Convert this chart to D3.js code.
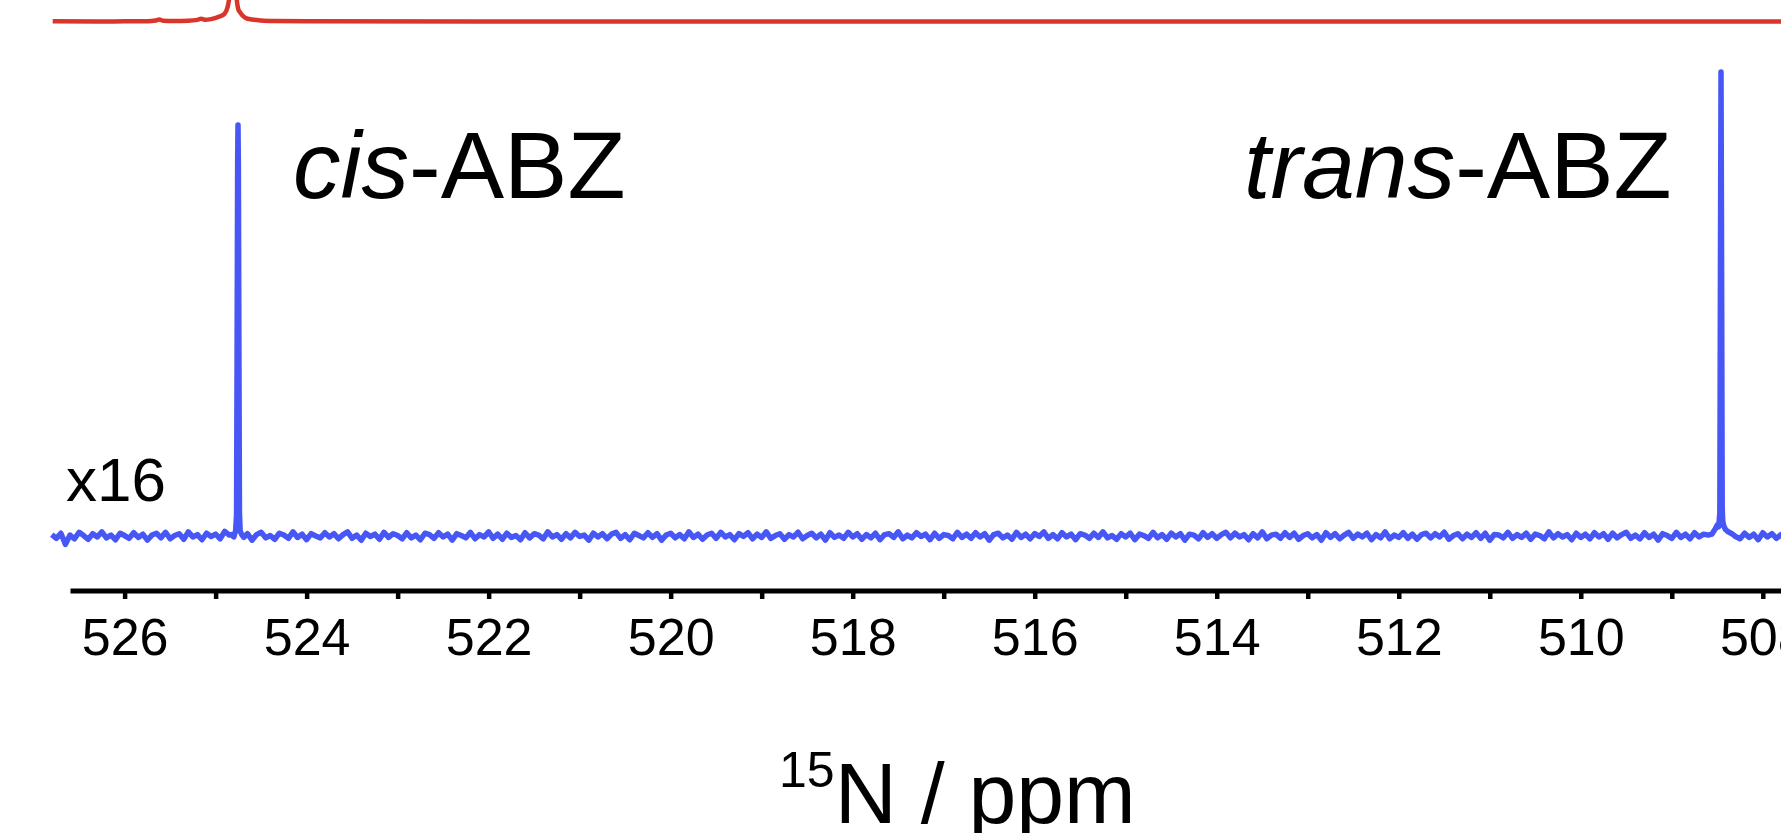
<!DOCTYPE html>
<html>
<head>
<meta charset="utf-8">
<script src="https://cdn.jsdelivr.net/npm/d3@7"></script>
<style>
  html, body { margin: 0; padding: 0; background: #fff; }
  svg { display: block; }
  text { font-family: "Liberation Sans", Arial, Helvetica, sans-serif; fill: #000; }
</style>
</head>
<body>
<script>
// ---------- data ----------
const tickValues = [526, 525, 524, 523, 522, 521, 520, 519, 518, 517, 516, 515, 514, 513, 512, 511, 510, 509, 508];
const xLabel = "N / ppm";
const xLabelSup = "15";
const scaleLabel = "x16";

// blue (x16) trace: baseline noise sampled every 0.05 ppm starting at 526.80 ppm
const noiseStart = 526.80;
const noiseStep = 0.05;
const blueNoise = [
  0.3,-0.5,0.6,-1.8,0.2,-0.6,0.8,0.1,-0.7,0.5,-0.2,0.9,-0.4,0.2,-0.8,0.6,0.1,-0.5,0.7,-0.3,
  0.4,-0.9,0.2,0.6,-0.4,0.8,-0.6,0.1,0.5,-0.7,0.9,-0.2,0.3,-0.8,0.6,-0.1,0.4,-0.6,1.0,0.2,
  -0.5,0.7,-0.3,0.5,-0.9,0.3,0.8,-0.4,0.1,-0.7,0.6,0.2,-0.5,0.9,-0.3,0.4,-0.8,0.5,0.0,-0.4,
  0.7,-0.2,0.5,-0.6,0.3,0.9,-0.5,0.2,-0.9,0.6,-0.1,0.4,-0.7,0.8,-0.3,0.5,0.1,-0.6,0.7,-0.4,
  0.2,-0.8,0.6,0.3,-0.5,0.7,-0.2,0.4,-0.9,0.5,0.1,-0.4,0.8,-0.6,0.3,-0.2,0.9,-0.5,0.4,-0.7,
  0.6,-0.3,0.1,-0.8,0.7,-0.4,0.5,0.2,-0.6,0.9,-0.2,0.3,-0.7,0.5,-0.4,0.8,-0.1,0.2,-0.9,0.6,
  -0.2,0.5,-0.6,0.4,0.8,-0.5,0.3,-0.8,0.6,0.1,-0.4,0.7,-0.3,0.5,-0.9,0.2,0.6,-0.4,0.3,-0.6,
  0.9,-0.3,0.4,-0.7,0.2,0.6,-0.5,0.8,-0.2,0.3,-0.8,0.5,-0.1,0.7,-0.6,0.4,-0.3,0.9,-0.5,0.1,
  0.5,-0.7,0.3,-0.2,0.8,-0.6,0.1,0.6,-0.4,0.4,-0.9,0.7,-0.3,0.2,-0.5,0.8,-0.2,0.5,-0.7,0.3,
  -0.4,0.6,-0.8,0.3,0.5,-0.3,0.9,-0.6,0.2,-0.4,0.7,-0.1,0.4,-0.8,0.6,-0.5,0.3,0.1,-0.6,0.8,
  -0.3,0.4,-0.5,0.7,-0.2,0.5,-0.9,0.3,0.6,-0.4,0.2,-0.7,0.8,-0.3,0.4,-0.6,0.5,-0.1,0.9,-0.5,
  0.3,-0.6,0.7,-0.2,0.4,-0.8,0.5,0.2,-0.5,0.6,-0.3,0.9,-0.4,0.1,-0.7,0.5,-0.2,0.6,-0.8,0.4,
  0.1,-0.5,0.8,-0.4,0.3,-0.7,0.6,-0.2,0.5,-0.9,0.4,0.2,-0.6,0.7,-0.3,0.5,-0.5,0.3,0.8,-0.4,
  0.6,-0.2,0.3,-0.8,0.5,-0.4,0.9,-0.6,0.2,0.4,-0.5,0.7,-0.3,0.6,-0.7,0.1,0.5,-0.4,0.3,-0.9,
  0.7,-0.3,0.5,-0.6,0.2,0.8,-0.5,0.4,-0.2,0.6,-0.8,0.3,-0.4,0.9,-0.6,0.2,-0.3,0.7,-0.5,0.4,
  -0.7,0.3,0.6,-0.4,0.5,-0.2,0.8,-0.7,0.1,0.5,-0.6,0.4,-0.3,0.7,-0.5,0.6,-0.9,0.3,0.2,-0.4,
  0.8,-0.5,0.3,-0.3,0.6,-0.7,0.4,0.1,-0.6,0.9,-0.4,0.5,-0.2,0.3,-0.8,0.6,-0.3,0.4,-0.6,0.7,
  -0.2,0.5,-0.7,0.6,-0.4,0.3,0.8,-0.5,0.2,-0.6,0.7,-0.3,0.4,-0.9,0.5,0.1,-0.5,0.8,-0.3,0.4,
  -0.6,0.7,-0.2,0.4,-0.5,0.9,-0.4,0.3,-0.7,0.5,0.2,-0.6,0.6,-0.3,0.4,-0.8,0.7,-0.2,0.5,-0.5,
  0.3,-0.4,0.6,-0.7,0.2,0.5,-0.3,0.8,-0.6,0.4,-0.2,0.7,-0.5,0.3,-0.4,0.6,-0.1,0.5,-0.6,0.2
];
// cis-ABZ peak (blue)
const cisPpm = [524.83, 524.80, 524.78, 524.770, 524.764, 524.758, 524.754, 524.750, 524.744, 524.738, 524.73, 524.71, 524.69];
const cisInt = [0.3, -0.2, 1.2, 4.5, 40, 80, 88.6, 80, 40, 5, 1.0, 0.2, -0.3];
// trans-ABZ peak (blue)
const transPpm = [508.60, 508.56, 508.52, 508.50, 508.485, 508.472, 508.465, 508.459, 508.453, 508.446, 508.44, 508.43, 508.41, 508.38, 508.34, 508.30];
const transInt = [0.2, 0.4, 1.6, 2.4, 2.0, 5, 60, 100, 60, 6, 3.2, 2.2, 1.4, 0.9, 0.5, -0.1];

// red trace (top, unscaled spectrum)
const redPpm = [526.79, 526.30, 526.00, 525.75, 525.66, 525.62, 525.58, 525.45, 525.30, 525.20, 525.16, 525.12, 525.05, 525.00, 524.95, 524.90, 524.87, 524.85, 524.83, 524.81, 524.79, 524.77, 524.75, 524.73, 524.70, 524.67, 524.60, 524.50, 524.35, 524.00, 522.00, 518.00, 512.00, 507.70];
const redInt = [0.1, 0.0, 0.1, 0.15, 0.5, 1.0, 0.4, 0.3, 0.4, 0.8, 1.4, 0.9, 1.2, 1.8, 2.6, 4.0, 7, 12, 25, 40, 25, 12, 6, 4.5, 2.8, 1.8, 1.0, 0.5, 0.25, 0.1, 0.0, 0.0, 0.0, 0.0];

// ---------- build ----------
const W = 1781, H = 833;
const svg = d3.select("body").append("svg").attr("width", W).attr("height", H);
svg.append("rect").attr("width", W).attr("height", H).attr("fill", "#fff");

const x = d3.scaleLinear().domain([526.6, 507.8]).range([70, 1781]);
const yBlue = d3.scaleLinear().domain([0, 100]).range([536, 72]);
const yRed = d3.scaleLinear().domain([0, 10]).range([21.5, 1.5]);

let bluePts = blueNoise.map((v, i) => ({ppm: +(noiseStart - i * noiseStep).toFixed(3), v}))
  .filter(d => !(d.ppm < 524.84 && d.ppm > 524.68) && !(d.ppm < 508.61 && d.ppm > 508.29));
cisPpm.forEach((p, i) => bluePts.push({ppm: p, v: cisInt[i]}));
transPpm.forEach((p, i) => bluePts.push({ppm: p, v: transInt[i]}));
bluePts.sort((a, b) => b.ppm - a.ppm);

const redPts = redPpm.map((p, i) => ({ppm: p, v: redInt[i]}));

svg.append("path")
  .datum(redPts)
  .attr("fill", "none")
  .attr("stroke", "#DA352A")
  .attr("stroke-width", 4.5)
  .attr("stroke-linejoin", "round")
  .attr("d", d3.line().x(d => x(d.ppm)).y(d => yRed(d.v)).curve(d3.curveMonotoneX));

svg.append("path")
  .datum(bluePts)
  .attr("fill", "none")
  .attr("stroke", "#4757F5")
  .attr("stroke-width", 5.5)
  .attr("stroke-linejoin", "round")
  .attr("d", d3.line().x(d => x(d.ppm)).y(d => yBlue(d.v)));

// axis
const axis = d3.axisBottom(x)
  .tickValues(tickValues)
  .tickSize(8.5)
  .tickSizeOuter(0)
  .tickPadding(19)
  .tickFormat(d => (d % 2 === 0 ? d3.format("d")(d) : ""));
const gAxis = svg.append("g").attr("transform", "translate(0,590.5)").call(axis);
gAxis.select(".domain").attr("stroke", "#000").attr("stroke-width", 5);
gAxis.selectAll(".tick line").attr("stroke", "#000").attr("stroke-width", 4.5);
gAxis.selectAll(".tick text")
  .attr("font-size", 52)
  .attr("font-family", "'Liberation Sans', Arial, sans-serif")
  .attr("fill", "#000");

// axis title with superscript
const title = svg.append("text").attr("x", 779).attr("y", 823).attr("font-size", 86);
title.append("tspan").attr("font-size", 50).attr("dy", -36).text(xLabelSup);
title.append("tspan").attr("dy", 36).text(xLabel);

// labels
svg.append("text").attr("x", 66).attr("y", 501).attr("font-size", 62).text(scaleLabel);

const cis = svg.append("text").attr("x", 293).attr("y", 198).attr("font-size", 95);
cis.append("tspan").attr("font-style", "italic").text("cis");
cis.append("tspan").text("-ABZ");

const trans = svg.append("text").attr("x", 1244).attr("y", 198).attr("font-size", 95);
trans.append("tspan").attr("font-style", "italic").text("trans");
trans.append("tspan").text("-ABZ");
</script>
</body>
</html>
